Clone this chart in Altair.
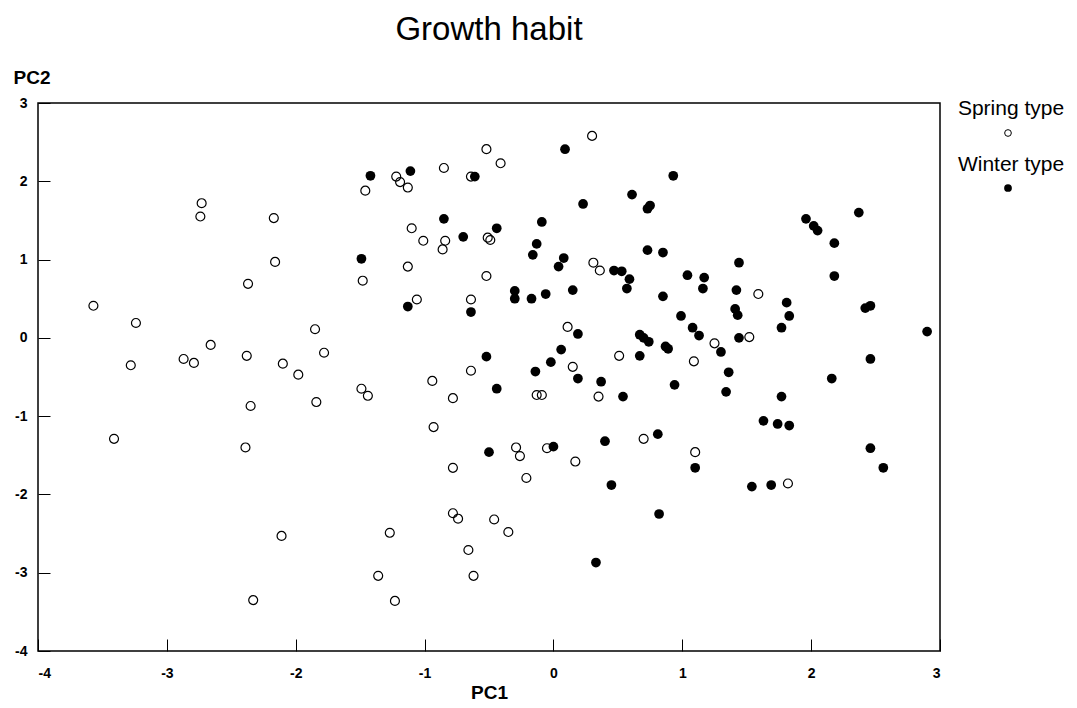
import altair as alt
import pandas as pd

spring_pc1 = [-3.57, -3.24, -2.73, -2.74, -2.17, -2.16, -2.37, -3.28, -2.87, -2.79,
              -2.66, -2.38, -2.10, -1.98, -2.35, -3.41, -2.39, -2.11, -2.33, -0.52,
              -0.41, -1.22, -1.19, -1.13, -1.46, -0.85, -0.64, -1.10, -1.01, -0.84,
              -0.86, -0.51, -0.49, -1.13, -1.48, -0.52, -1.06, -0.64, -1.85, -1.78,
              -0.64, 0.30, 0.31, 0.36, 1.59, 0.11, 1.25, 1.52, 0.15, 0.51,
              1.09, 0.35, 0.17, 0.70, 1.10, 1.82, -1.84, -1.49, -1.44, -0.94,
              -0.78, -0.93, -0.13, -0.09, -0.29, -0.26, -0.21, -0.05, -0.78, -0.78,
              -0.74, -1.27, -0.46, -0.35, -0.66, -1.36, -0.62, -1.23]
spring_pc2 = [0.41, 0.19, 1.72, 1.55, 1.53, 0.97, 0.69, -0.35, -0.27, -0.32,
              -0.09, -0.23, -0.33, -0.47, -0.87, -1.29, -1.40, -2.53, -3.35, 2.41,
              2.23, 2.06, 1.99, 1.92, 1.88, 2.17, 2.06, 1.40, 1.24, 1.24,
              1.13, 1.28, 1.25, 0.91, 0.73, 0.79, 0.49, 0.49, 0.11, -0.19,
              -0.42, 2.58, 0.96, 0.86, 0.56, 0.14, -0.07, 0.01, -0.37, -0.23,
              -0.30, -0.75, -1.58, -1.29, -1.46, -1.86, -0.82, -0.65, -0.74, -0.55,
              -0.77, -1.14, -0.73, -0.73, -1.40, -1.51, -1.79, -1.41, -1.66, -2.24,
              -2.31, -2.49, -2.32, -2.48, -2.71, -3.04, -3.04, -3.36]

winter_pc1 = [-1.42, -1.11, -0.61, -0.85, -0.70, -0.44, -0.09, -0.13, -0.16, 0.04,
              -1.49, -1.13, -0.64, -0.30, -0.30, -0.17, -0.06, -0.52, -0.14, -0.02,
              0.06, 0.09, 0.93, 0.61, 0.23, 0.73, 0.75, 1.96, 2.02, 2.05,
              0.73, 0.85, 0.08, 1.44, 0.47, 0.53, 0.59, 0.57, 1.04, 1.17,
              1.16, 0.15, 0.85, 1.42, 1.41, 1.43, 1.81, 1.83, 1.77, 0.99,
              0.19, 1.08, 1.13, 0.67, 0.70, 0.74, 0.87, 0.89, 1.30, 1.44,
              0.67, 1.36, 0.19, 0.37, 0.54, 0.94, 1.34, 1.77, 1.63, 1.74,
              1.83, 0.00, 0.40, 0.81, 1.10, 0.45, 1.54, 1.69, 0.82, 0.33,
              -0.44, -0.50, 2.37, 2.18, 2.18, 2.42, 2.46, 2.90, 2.46, 2.16,
              2.46, 2.56]
winter_pc2 = [2.07, 2.13, 2.06, 1.52, 1.29, 1.40, 1.48, 1.20, 1.06, 0.91,
              1.01, 0.40, 0.33, 0.60, 0.50, 0.50, 0.56, -0.24, -0.43, -0.31,
              -0.15, 2.41, 2.07, 1.83, 1.71, 1.65, 1.69, 1.52, 1.43, 1.37,
              1.12, 1.09, 1.02, 0.96, 0.86, 0.85, 0.75, 0.63, 0.80, 0.77,
              0.63, 0.61, 0.53, 0.61, 0.37, 0.29, 0.45, 0.28, 0.13, 0.28,
              0.05, 0.13, 0.03, 0.04, 0.00, -0.05, -0.11, -0.14, -0.18, 0.00,
              -0.23, -0.44, -0.52, -0.56, -0.75, -0.60, -0.69, -0.75, -1.06, -1.10,
              -1.12, -1.39, -1.32, -1.23, -1.66, -1.88, -1.90, -1.88, -2.25, -2.87,
              -0.65, -1.46, 1.60, 1.21, 0.79, 0.38, 0.41, 0.08, -0.27, -0.52,
              -1.41, -1.66]

x_ticks = [-4, -3, -2, -1, 0, 1, 2, 3]
y_ticks = [-4, -3, -2, -1, 0, 1, 2, 3]
legend_labels = ["Spring type", "Winter type"]

spring = pd.DataFrame({"PC1": spring_pc1, "PC2": spring_pc2})
winter = pd.DataFrame({"PC1": winter_pc1, "PC2": winter_pc2})

W, H = 902, 548
FONT = "Liberation Sans"

xscale = alt.Scale(domain=[-4, 3], nice=False, zero=False)
yscale = alt.Scale(domain=[-4, 3], nice=False, zero=False)

lab = dict(labelFont=FONT, labelFontWeight="bold", labelFontSize=14, labelColor="black",
           labelExpr="datum.value + ''")

x_main = alt.X("PC1:Q", scale=xscale,
               axis=alt.Axis(values=x_ticks, title="PC1", ticks=False, domain=False, grid=False,
                             labelPadding=15, titleFont=FONT, titleFontSize=19,
                             titleFontWeight="bold", titleColor="black", titlePadding=3, **lab))
y_main = alt.Y("PC2:Q", scale=yscale,
               axis=alt.Axis(values=y_ticks, title="PC2", ticks=False, domain=False, grid=False,
                             labelPadding=11, titleFont=FONT, titleFontSize=19,
                             titleFontWeight="bold", titleColor="black", titleAngle=0,
                             titleX=-25, titleY=-20, titleAlign="left",
                             titleBaseline="alphabetic", **lab))

x_tick = alt.X("PC1:Q", scale=xscale,
               axis=alt.Axis(values=x_ticks, orient="bottom", offset=-12, tickSize=12,
                             tickColor="black", tickWidth=1, labels=False, domain=False,
                             grid=False, title=None))
y_tick = alt.Y("PC2:Q", scale=yscale,
               axis=alt.Axis(values=y_ticks, orient="left", offset=-12, tickSize=12,
                             tickColor="black", tickWidth=1, labels=False, domain=False,
                             grid=False, title=None))

open_pts = alt.Chart(spring).mark_point(
    shape="circle", filled=False, size=80, stroke="black", strokeWidth=1.2, opacity=1
).encode(x=x_main, y=y_main)

filled_pts = alt.Chart(winter).mark_point(
    shape="circle", filled=True, size=95, color="black", opacity=1
).encode(x=x_tick, y=y_tick)

one = pd.DataFrame({"label": legend_labels})

leg_text1 = alt.Chart(one).transform_filter(alt.datum.label == legend_labels[0]).mark_text(
    font=FONT, fontSize=21, align="center", baseline="alphabetic", color="black"
).encode(x=alt.value(973), y=alt.value(12), text="label:N")
leg_text2 = alt.Chart(one).transform_filter(alt.datum.label == legend_labels[1]).mark_text(
    font=FONT, fontSize=21, align="center", baseline="alphabetic", color="black"
).encode(x=alt.value(973), y=alt.value(68), text="label:N")
leg_pt1 = alt.Chart(one).transform_filter(alt.datum.label == legend_labels[0]).mark_point(
    shape="circle", filled=False, size=45, stroke="black", strokeWidth=1, opacity=1
).encode(x=alt.value(970), y=alt.value(30))
leg_pt2 = alt.Chart(one).transform_filter(alt.datum.label == legend_labels[1]).mark_point(
    shape="circle", filled=True, size=60, color="black", opacity=1
).encode(x=alt.value(970), y=alt.value(85))

chart = alt.layer(open_pts, filled_pts, leg_text1, leg_text2, leg_pt1, leg_pt2).resolve_axis(
    x="independent", y="independent"
).properties(
    width=W, height=H,
    view=alt.ViewBackground(stroke="black", strokeWidth=1.5, fill="white"),
    title=alt.TitleParams("Growth habit", font=FONT, fontSize=33, fontWeight="normal",
                          color="black", anchor="middle", frame="group", offset=21),
    autosize=alt.AutoSizeParams(type="none"),
    padding={"left": 30, "top": 95, "right": 128, "bottom": 50},
).configure_view(stroke="black", strokeWidth=1.5).configure(background="white")

chart.save("out.html", embed_options={"renderer": "svg", "actions": False})
